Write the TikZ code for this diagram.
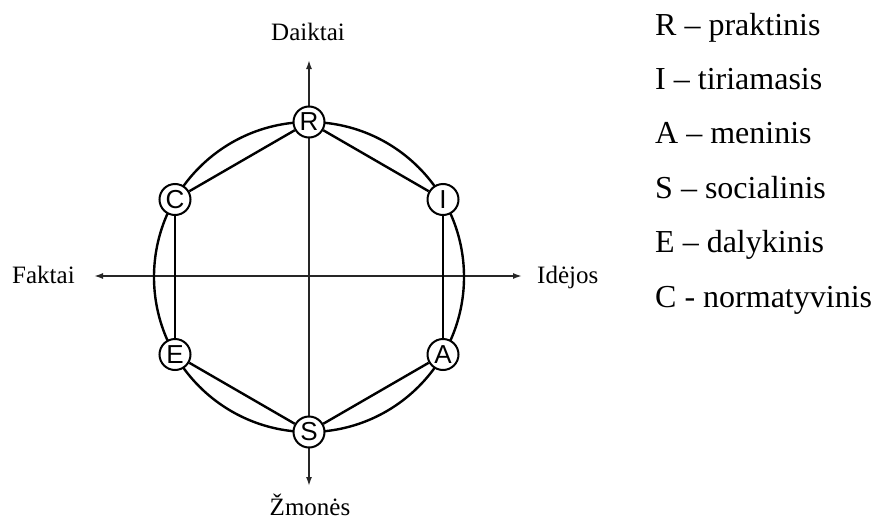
\documentclass[tikz,border=0pt]{standalone}
\usepackage{fontspec}
\setmainfont{Liberation Serif}
\newfontfamily\nodefont{Liberation Sans}
\usetikzlibrary{arrows.meta}
\begin{document}
\begin{tikzpicture}[x=1pt,y=-1pt,
  ring/.style={draw, line width=2.4pt},
  edge/.style={draw, line width=2.4pt},
  vtx/.style={circle, draw, fill=white, line width=2pt, minimum size=31pt, inner sep=0pt, font=\nodefont\fontsize{26}{26}\selectfont},
  axis/.style={draw=black!85, line width=1.6pt, {Latex[length=9pt,width=6pt]}-{Latex[length=9pt,width=6pt]}},
  axlabel/.style={anchor=base, font=\fontsize{25}{25}\selectfont, inner sep=0pt},
  legend/.style={anchor=base west, font=\fontsize{32}{32}\selectfont, inner sep=0pt}]
\useasboundingbox (0,0) rectangle (872,522);
\coordinate (O) at (309,277);
% axes
\coordinate (top) at (309,60);
\coordinate (bot) at (309,486);
\coordinate (lft) at (94,276);
\coordinate (rgt) at (522,276);
\draw[axis] (bot) -- (top);
\draw[axis] (lft) -- (rgt);
% circle
\draw[ring] (O) circle (155pt);
% vertices
\node[vtx] (R) at (309,122) {R};
\node[vtx] (I) at (443,199.5) {I};
\node[vtx] (A) at (443,354.5) {A};
\node[vtx] (S) at (309,432) {S};
\node[vtx] (E) at (175,354.5) {E};
\node[vtx] (C) at (175,199.5) {C};
% hexagon
\draw[edge] (R) -- (I);
\draw[edge] (I) -- (A);
\draw[edge] (A) -- (S);
\draw[edge] (S) -- (E);
\draw[edge] (E) -- (C);
\draw[edge] (C) -- (R);
% axis labels
\node[axlabel] (daiktai) at (308,40) {Daiktai};
\node[axlabel] (zmones) at (310,515) {Žmonės};
\node[axlabel, anchor=base west] (faktai) at (12,283) {Faktai};
\node[axlabel, anchor=base west] (idejos) at (537,283) {Idėjos};
% legend
\node[legend] (l1) at (655,35) {R – praktinis};
\node[legend] (l2) at (655,89.4) {I – tiriamasis};
\node[legend] (l3) at (655,143.8) {A – meninis};
\node[legend] (l4) at (655,198.2) {S – socialinis};
\node[legend] (l5) at (655,252.6) {E – dalykinis};
\node[legend] (l6) at (655,307) {C - normatyvinis};
\end{tikzpicture}
\end{document}
